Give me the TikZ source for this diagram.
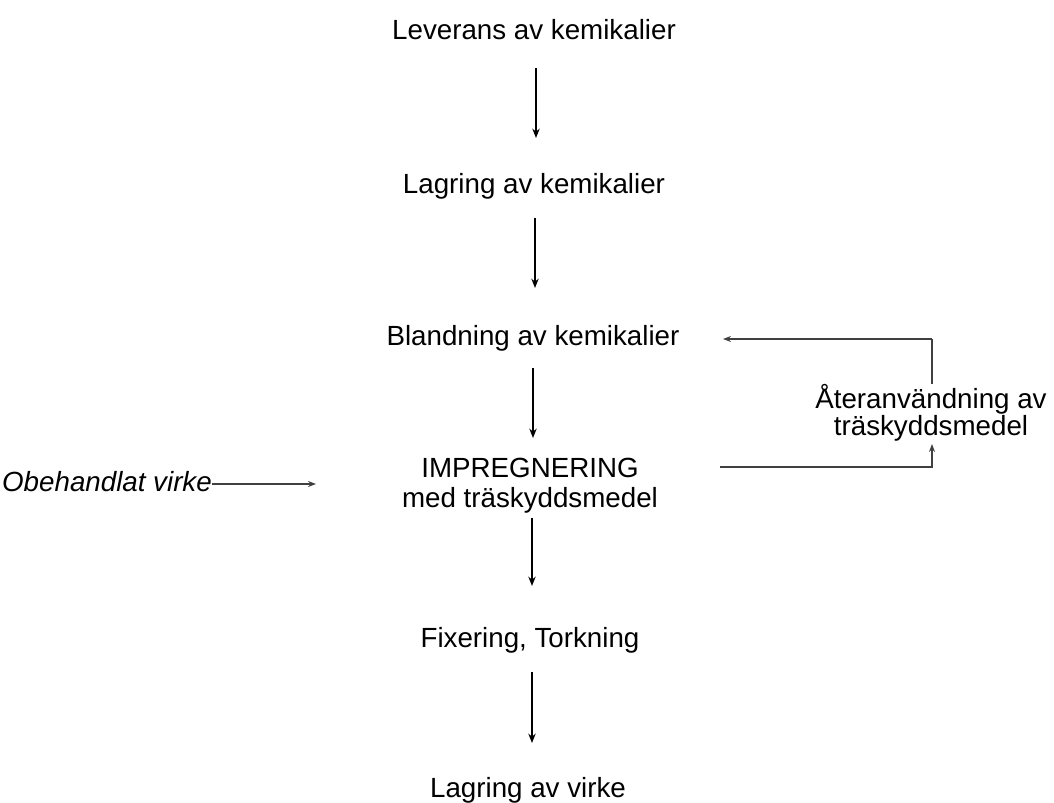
\documentclass[tikz,border=0pt]{standalone}
\usepackage{fontspec}
\setmainfont{Liberation Sans}
\usetikzlibrary{arrows.meta}
\tikzset{
  lbl/.style={anchor=base, inner sep=0pt, font=\fontsize{20.8}{22.5}\selectfont},
  vflow/.style={line width=2.2pt, black, -{Stealth[length=7pt,width=5.5pt]}},
  hflow/.style={line width=1.7pt, black!75, -{Stealth[length=6pt,width=4.5pt]}},
  hline/.style={line width=1.7pt, black!75},
}
\begin{document}
\begin{tikzpicture}[x=0.75pt,y=-0.75pt]
\useasboundingbox (0,0) rectangle (1054,803);
% main column labels (anchor = baseline of last line)
\node[lbl] (lev) at (534,39) {Leverans av kemikalier};
\node[lbl] (lag) at (534,193) {Lagring av kemikalier};
\node[lbl] (bla) at (533,345) {Blandning av kemikalier};
\node[lbl, align=center] (imp) at (530,507) {IMPREGNERING\\med träskyddsmedel};
\node[lbl] (fix) at (530,647) {Fixering, Torkning};
\node[lbl] (lav) at (528,797) {Lagring av virke};
\node[lbl, font=\fontsize{20.8}{20.25}\selectfont, align=center] (ater) at (931,435) {Återanvändning av\\träskyddsmedel};
\node[lbl, font=\fontsize{20.8}{22.5}\selectfont\itshape] (obe) at (107,491) {Obehandlat virke};
% arrow end points
\coordinate (a1s) at (536,68);  \coordinate (a1e) at (536,138);
\coordinate (a2s) at (535,218); \coordinate (a2e) at (535,288);
\coordinate (a3s) at (533,368); \coordinate (a3e) at (533,438);
\coordinate (a4s) at (532,518); \coordinate (a4e) at (532,586);
\coordinate (a5s) at (532,672); \coordinate (a5e) at (532,743);
\draw[vflow] (a1s) -- (a1e);
\draw[vflow] (a2s) -- (a2e);
\draw[vflow] (a3s) -- (a3e);
\draw[vflow] (a4s) -- (a4e);
\draw[vflow] (a5s) -- (a5e);
% left input
\coordinate (obeE) at (212,484);
\coordinate (impW) at (316,484);
\draw[hflow] (obeE) -- (impW);
% recycling loop
\coordinate (impE) at (720,467);
\coordinate (aterB) at (932,444);
\coordinate (aterT) at (932,384);
\coordinate (blaE) at (723,339);
\draw[hflow] (impE) -- (932,467) -- (aterB);
\draw[hline] (aterT) -- (932,339);
\draw[hflow] (932,339) -- (blaE);
\end{tikzpicture}
\end{document}
